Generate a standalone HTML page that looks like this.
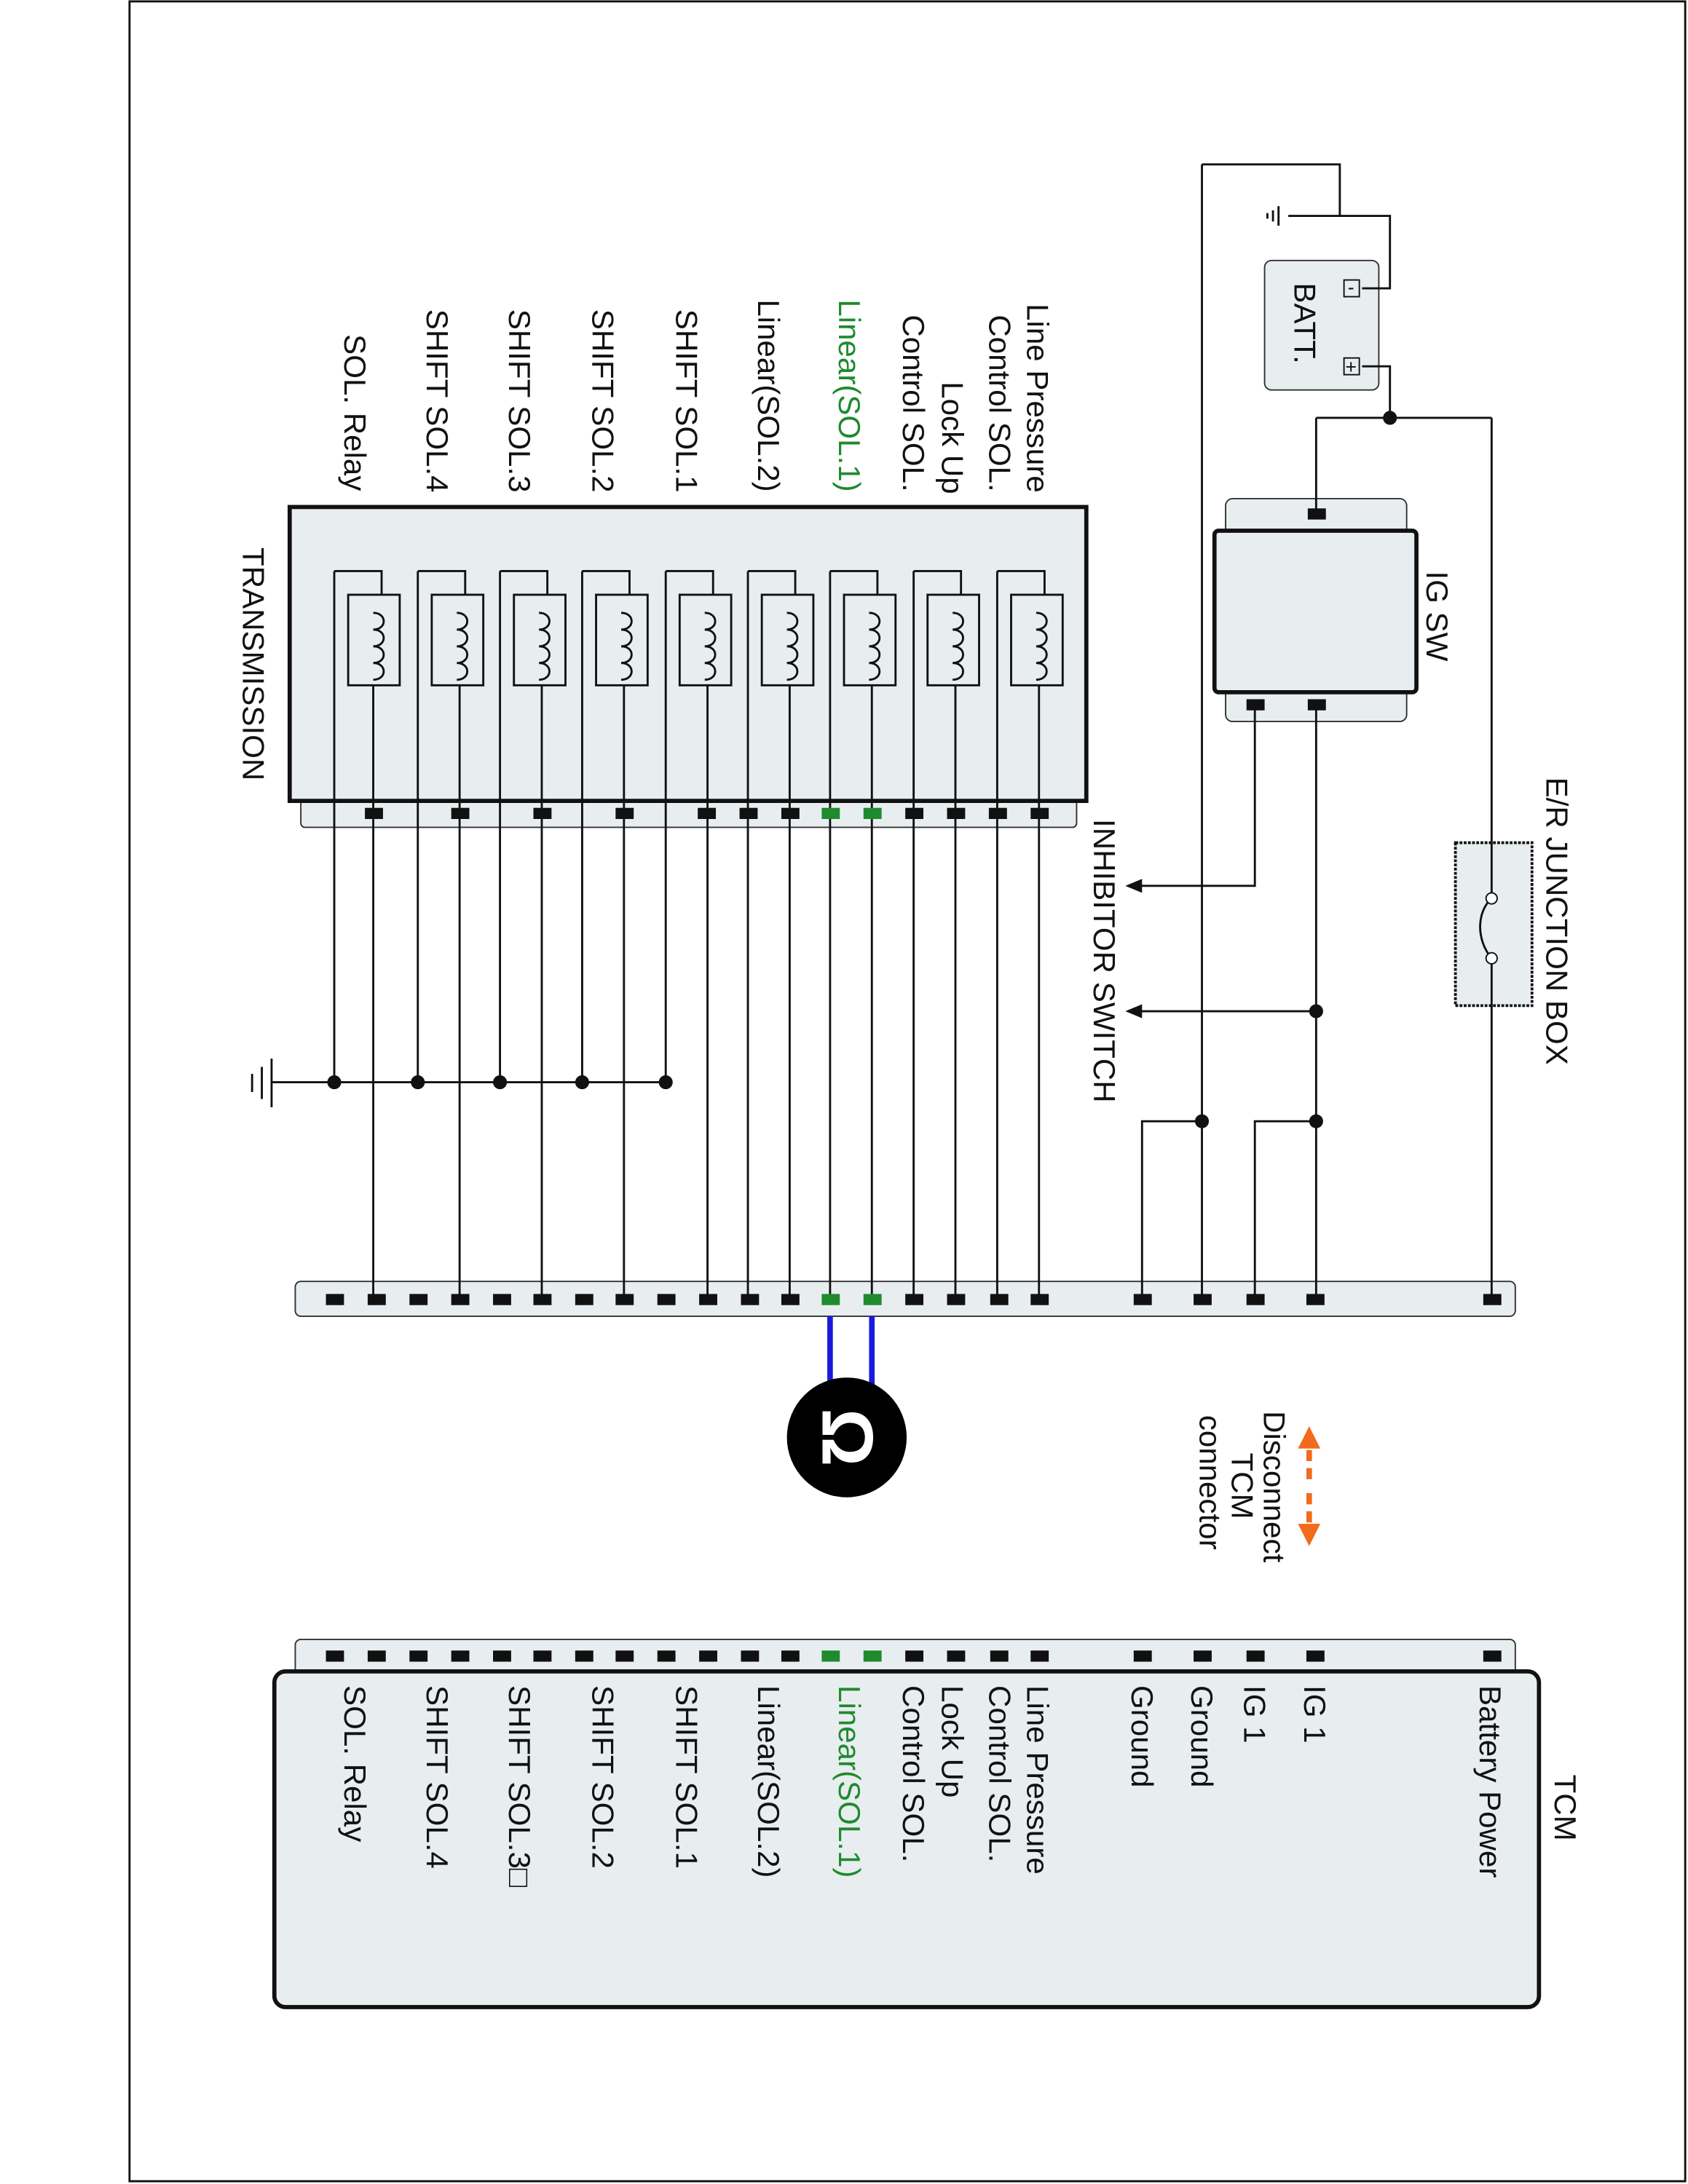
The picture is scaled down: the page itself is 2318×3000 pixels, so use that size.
<!DOCTYPE html>
<html><head><meta charset="utf-8"><style>
html,body{margin:0;padding:0;background:#fff}
svg{display:block}
text{font-family:"Liberation Sans",sans-serif;font-size:22px;fill:#111}
</style></head><body>
<svg width="2318" height="3000" viewBox="0 0 1212 1568" preserveAspectRatio="none" xmlns="http://www.w3.org/2000/svg">
<rect x="93" y="1" width="1117" height="1565" fill="#fff" stroke="#111" stroke-width="1.5"/>
<g stroke="#111" stroke-width="1.5" fill="none">
<rect x="216" y="570" width="557" height="24" rx="3" fill="#e8eef0" stroke="#333" stroke-width="1"/>
<rect x="208" y="364" width="572" height="211" fill="#e8eef0" stroke-width="3"/>
<rect x="212" y="920" width="876" height="25" rx="4" fill="#e8eef0" stroke="#333" stroke-width="1"/>
<rect x="212" y="1177" width="876" height="28" rx="4" fill="#e8eef0" stroke="#333" stroke-width="1"/>
<rect x="197" y="1200" width="908" height="241" rx="8" fill="#e8eef0" stroke-width="3"/>
<rect x="880" y="358" width="130" height="160" rx="5" fill="#e8eef0" stroke="#333" stroke-width="1"/>
<rect x="872" y="381" width="145" height="116" rx="3" fill="#e8eef0" stroke-width="3"/>
<rect x="908" y="187" width="82" height="93" rx="5" fill="#e8eef0" stroke="#333" stroke-width="1"/>
<rect x="1045" y="605" width="55" height="117" fill="#e8eef0" stroke-width="2" stroke-dasharray="2 1"/>
<path d="M1071 300V645 M1071 688V933"/>
<path d="M1071 645 C1060 655,1060 675,1071 688" />
<path d="M863 118H962V155H998V207H978 M962 155H925 M978 263H998V300 M945 300H1071 M945 300V369"/>
<path d="M918 148V162 M914 151V159 M910 153V157"/>
<path d="M863 118V933 M820 933V805H863 M945 506V933 M901 933V805H945 M901 506V636H812 M945 726H812"/>
<path d="M240 777H478 M195 760V795 M188 766V789 M181 771V784 M195 777H240"/>
</g>
<g fill="#111">
<circle cx="998" cy="300" r="5"/><circle cx="863" cy="805" r="5"/><circle cx="945" cy="805" r="5"/><circle cx="945" cy="726" r="5"/>
<circle cx="1071" cy="645" r="4" fill="#fff" stroke="#111"/><circle cx="1071" cy="688" r="4" fill="#fff" stroke="#111"/>
<circle cx="240" cy="777" r="5"/><circle cx="300" cy="777" r="5"/><circle cx="359" cy="777" r="5"/><circle cx="418" cy="777" r="5"/><circle cx="478" cy="777" r="5"/>
<path d="M808 636l12-5v10z M808 726l12-5v10z"/>
<rect x="939" y="365" width="13" height="8"/><rect x="895" y="502" width="13" height="8"/><rect x="939" y="502" width="13" height="8"/>
</g>
<g fill="none" stroke="#111" stroke-width="1"><rect x="965" y="201" width="11" height="12"/><rect x="965" y="257" width="11" height="12"/></g>
<text x="970" y="211" style="font-size:14px" text-anchor="middle">-</text>
<text x="970" y="268" style="font-size:14px" text-anchor="middle">+</text>
<g stroke="#111" stroke-width="1.5" fill="none">
<path d="M240 410H274V427 M240 410V777"/><rect x="250" y="427" width="37" height="65"/><path d="M268 492V933 M268 440c10 0 10 12 0 12c10 0 10 12 0 12c10 0 10 12 0 12c10 0 10 12 0 12"/>
<path d="M300 410H334V427 M300 410V777"/><rect x="310" y="427" width="37" height="65"/><path d="M330 492V933 M328 440c10 0 10 12 0 12c10 0 10 12 0 12c10 0 10 12 0 12c10 0 10 12 0 12"/>
<path d="M359 410H393V427 M359 410V777"/><rect x="369" y="427" width="37" height="65"/><path d="M389 492V933 M387 440c10 0 10 12 0 12c10 0 10 12 0 12c10 0 10 12 0 12c10 0 10 12 0 12"/>
<path d="M418 410H452V427 M418 410V777"/><rect x="428" y="427" width="37" height="65"/><path d="M448 492V933 M446 440c10 0 10 12 0 12c10 0 10 12 0 12c10 0 10 12 0 12c10 0 10 12 0 12"/>
<path d="M478 410H512V427 M478 410V777"/><rect x="488" y="427" width="37" height="65"/><path d="M508 492V933 M506 440c10 0 10 12 0 12c10 0 10 12 0 12c10 0 10 12 0 12c10 0 10 12 0 12"/>
<path d="M537 410H571V427 M537 410V933"/><rect x="547" y="427" width="37" height="65"/><path d="M567 492V933 M565 440c10 0 10 12 0 12c10 0 10 12 0 12c10 0 10 12 0 12c10 0 10 12 0 12"/>
<path d="M596 410H630V427 M596 410V933"/><rect x="606" y="427" width="37" height="65"/><path d="M626 492V933 M624 440c10 0 10 12 0 12c10 0 10 12 0 12c10 0 10 12 0 12c10 0 10 12 0 12"/>
<path d="M656 410H690V427 M656 410V933"/><rect x="666" y="427" width="37" height="65"/><path d="M686 492V933 M684 440c10 0 10 12 0 12c10 0 10 12 0 12c10 0 10 12 0 12c10 0 10 12 0 12"/>
<path d="M716 410H750V427 M716 410V933"/><rect x="726" y="427" width="37" height="65"/><path d="M746 492V933 M744 440c10 0 10 12 0 12c10 0 10 12 0 12c10 0 10 12 0 12c10 0 10 12 0 12"/>
</g>
<g fill="#111">
<rect x="262" y="580" width="13" height="8"/><rect x="324" y="580" width="13" height="8"/><rect x="383" y="580" width="13" height="8"/><rect x="442" y="580" width="13" height="8"/><rect x="501" y="580" width="13" height="8"/><rect x="531" y="580" width="13" height="8"/><rect x="561" y="580" width="13" height="8"/><rect x="590" y="580" width="13" height="8" fill="#1f8a2e"/><rect x="620" y="580" width="13" height="8" fill="#1f8a2e"/><rect x="650" y="580" width="13" height="8"/><rect x="680" y="580" width="13" height="8"/><rect x="710" y="580" width="13" height="8"/><rect x="740" y="580" width="13" height="8"/>
</g>
<g fill="#111">
<rect x="234" y="929" width="13" height="8"/><rect x="264" y="929" width="13" height="8"/><rect x="294" y="929" width="13" height="8"/><rect x="324" y="929" width="13" height="8"/><rect x="354" y="929" width="13" height="8"/><rect x="383" y="929" width="13" height="8"/><rect x="413" y="929" width="13" height="8"/><rect x="442" y="929" width="13" height="8"/><rect x="472" y="929" width="13" height="8"/><rect x="502" y="929" width="13" height="8"/><rect x="532" y="929" width="13" height="8"/><rect x="561" y="929" width="13" height="8"/><rect x="590" y="929" width="13" height="8" fill="#1f8a2e"/><rect x="620" y="929" width="13" height="8" fill="#1f8a2e"/><rect x="650" y="929" width="13" height="8"/><rect x="680" y="929" width="13" height="8"/><rect x="711" y="929" width="13" height="8"/><rect x="740" y="929" width="13" height="8"/><rect x="814" y="929" width="13" height="8"/><rect x="857" y="929" width="13" height="8"/><rect x="895" y="929" width="13" height="8"/><rect x="938" y="929" width="13" height="8"/><rect x="1065" y="929" width="13" height="8"/>
</g>
<g fill="#111">
<rect x="234" y="1185" width="13" height="8"/><rect x="264" y="1185" width="13" height="8"/><rect x="294" y="1185" width="13" height="8"/><rect x="324" y="1185" width="13" height="8"/><rect x="354" y="1185" width="13" height="8"/><rect x="383" y="1185" width="13" height="8"/><rect x="413" y="1185" width="13" height="8"/><rect x="442" y="1185" width="13" height="8"/><rect x="472" y="1185" width="13" height="8"/><rect x="502" y="1185" width="13" height="8"/><rect x="532" y="1185" width="13" height="8"/><rect x="561" y="1185" width="13" height="8"/><rect x="590" y="1185" width="13" height="8" fill="#1f8a2e"/><rect x="620" y="1185" width="13" height="8" fill="#1f8a2e"/><rect x="650" y="1185" width="13" height="8"/><rect x="680" y="1185" width="13" height="8"/><rect x="711" y="1185" width="13" height="8"/><rect x="740" y="1185" width="13" height="8"/><rect x="814" y="1185" width="13" height="8"/><rect x="857" y="1185" width="13" height="8"/><rect x="895" y="1185" width="13" height="8"/><rect x="938" y="1185" width="13" height="8"/><rect x="1065" y="1185" width="13" height="8"/>
</g>
<path d="M596 945V995 M626 945V995" stroke="#1a1adc" stroke-width="4"/>
<circle cx="608" cy="1032" r="43" fill="#000"/>
<text transform="translate(608,1032) rotate(90)" text-anchor="middle" dominant-baseline="central" style="font-size:52px;fill:#fff;font-weight:bold">Ω</text>
<g stroke="#f26a1b" stroke-width="4" fill="#f26a1b">
<path d="M940 1062V1038" stroke-dasharray="8 5"/><path d="M932 1040l8-16 8 16z" stroke="none"/>
<path d="M940 1072V1096" stroke-dasharray="8 5"/><path d="M932 1094l8 16 8-16z" stroke="none"/>
</g>
<g>
<text transform="translate(745,218) rotate(90)" dominant-baseline="central">Line Pressure</text>
<text transform="translate(718,226) rotate(90)" dominant-baseline="central">Control SOL.</text>
<text transform="translate(684,274) rotate(90)" dominant-baseline="central">Lock Up</text>
<text transform="translate(656,226) rotate(90)" dominant-baseline="central">Control SOL.</text>
<text transform="translate(610,215) rotate(90)" dominant-baseline="central" style="fill:#1f8a2e">Linear(SOL.1)</text>
<text transform="translate(552,215) rotate(90)" dominant-baseline="central">Linear(SOL.2)</text>
<text transform="translate(493,222) rotate(90)" dominant-baseline="central">SHIFT SOL.1</text>
<text transform="translate(433,222) rotate(90)" dominant-baseline="central">SHIFT SOL.2</text>
<text transform="translate(373,222) rotate(90)" dominant-baseline="central">SHIFT SOL.3</text>
<text transform="translate(314,222) rotate(90)" dominant-baseline="central">SHIFT SOL.4</text>
<text transform="translate(255,240) rotate(90)" dominant-baseline="central">SOL. Relay</text>
<text transform="translate(182,393) rotate(90)" dominant-baseline="central">TRANSMISSION</text>
<text transform="translate(793,588) rotate(90)" dominant-baseline="central">INHIBITOR SWITCH</text>
<text transform="translate(1118,558) rotate(90)" dominant-baseline="central">E/R JUNCTION BOX</text>
<text transform="translate(1032,410) rotate(90)" dominant-baseline="central">IG SW</text>
<text transform="translate(937,203) rotate(90)" dominant-baseline="central">BATT.</text>
<text transform="translate(915,1013) rotate(90)" dominant-baseline="central">Disconnect</text>
<text transform="translate(892,1043) rotate(90)" dominant-baseline="central">TCM</text>
<text transform="translate(869,1016) rotate(90)" dominant-baseline="central">connector</text>
<text transform="translate(1124,1274) rotate(90)" dominant-baseline="central">TCM</text>
<text transform="translate(1070,1210) rotate(90)" dominant-baseline="central">Battery Power</text>
<text transform="translate(944,1210) rotate(90)" dominant-baseline="central">IG 1</text>
<text transform="translate(901,1210) rotate(90)" dominant-baseline="central">IG 1</text>
<text transform="translate(863,1210) rotate(90)" dominant-baseline="central">Ground</text>
<text transform="translate(820,1210) rotate(90)" dominant-baseline="central">Ground</text>
<text transform="translate(745,1210) rotate(90)" dominant-baseline="central">Line Pressure</text>
<text transform="translate(718,1210) rotate(90)" dominant-baseline="central">Control SOL.</text>
<text transform="translate(684,1210) rotate(90)" dominant-baseline="central">Lock Up</text>
<text transform="translate(656,1210) rotate(90)" dominant-baseline="central">Control SOL.</text>
<text transform="translate(610,1210) rotate(90)" dominant-baseline="central" style="fill:#1f8a2e">Linear(SOL.1)</text>
<text transform="translate(552,1210) rotate(90)" dominant-baseline="central">Linear(SOL.2)</text>
<text transform="translate(493,1210) rotate(90)" dominant-baseline="central">SHIFT SOL.1</text>
<text transform="translate(433,1210) rotate(90)" dominant-baseline="central">SHIFT SOL.2</text>
<text transform="translate(373,1210) rotate(90)" dominant-baseline="central">SHIFT SOL.3□</text>
<text transform="translate(314,1210) rotate(90)" dominant-baseline="central">SHIFT SOL.4</text>
<text transform="translate(255,1210) rotate(90)" dominant-baseline="central">SOL. Relay</text>
</g>
</svg>
</body></html>
